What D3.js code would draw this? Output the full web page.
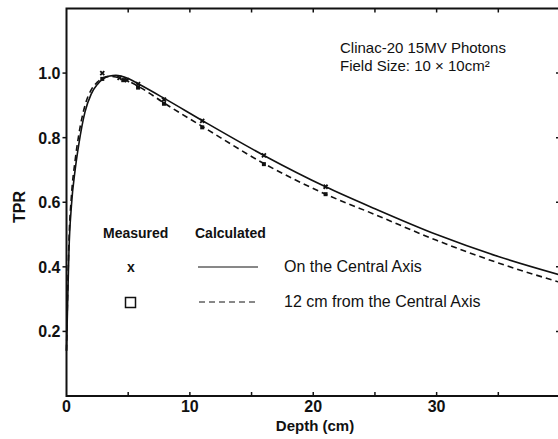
<!DOCTYPE html>
<html>
<head>
<meta charset="utf-8">
<script src="https://cdn.jsdelivr.net/npm/d3@7"></script>
<style>
  html, body { margin: 0; padding: 0; background: #fff; }
  svg { display: block; }
  text { font-family: "Liberation Sans Narrow", "Arial Narrow", "Liberation Sans", Arial, sans-serif; fill: #111; }
</style>
</head>
<body>
<svg id="chart" width="558" height="439"></svg>
<script>
// Tissue-phantom ratio vs depth, Clinac-20 15 MV photons, 10x10 cm field
const xTicks = [0, 10, 20, 30];
const yTicks = [0.2, 0.4, 0.6, 0.8, 1.0];

// Calculated curve on the central axis: [depth cm, TPR]
const calcCentral = [
  [0.0, 0.14], [0.1, 0.30], [0.2, 0.45], [0.4, 0.59], [0.7, 0.70], [1.0, 0.78],
  [1.5, 0.88], [2.0, 0.935], [2.5, 0.965], [3.0, 0.983], [3.5, 0.991], [4.0, 0.993],
  [5.0, 0.983], [6.0, 0.963], [8.0, 0.92], [11, 0.853], [16, 0.745], [21, 0.648],
  [25, 0.58], [30, 0.50], [35, 0.432], [40, 0.375]
];
// Calculated curve 12 cm from the central axis
const calcOffAxis = [
  [0.0, 0.14], [0.1, 0.33], [0.2, 0.48], [0.4, 0.62], [0.7, 0.73], [1.0, 0.81],
  [1.5, 0.90], [2.0, 0.948], [2.5, 0.972], [3.0, 0.986], [3.5, 0.990], [4.0, 0.988],
  [5.0, 0.975], [6.0, 0.955], [8.0, 0.905], [11, 0.835], [16, 0.72], [21, 0.625],
  [25, 0.562], [30, 0.482], [35, 0.412], [40, 0.352]
];
// Measured points
const measCentral = [
  [2.9, 1.0], [4.3, 0.985], [4.9, 0.978], [5.8, 0.966], [7.9, 0.918],
  [11, 0.852], [16, 0.745], [21, 0.648]
];
const measOffAxis = [
  [2.9, 0.982], [4.6, 0.978], [5.8, 0.955], [7.9, 0.905],
  [11, 0.832], [16, 0.718], [21, 0.625]
];

const svg = d3.select("#chart");
const mLeft = 66.5, mRight = 560, mTop = 8.5, mBottom = 396;

const x = d3.scaleLinear().domain([0, 40]).range([mLeft, mRight]);
const y = d3.scaleLinear().domain([0, 1.2]).range([mBottom, mTop]);

// frame
svg.append("rect")
  .attr("x", mLeft).attr("y", mTop)
  .attr("width", mRight - mLeft).attr("height", mBottom - mTop)
  .attr("fill", "none").attr("stroke", "#111").attr("stroke-width", 2);

const minorX = d3.range(5, 40, 5);
// bottom ticks (inward)
svg.append("g").selectAll("line").data(minorX).join("line")
  .attr("x1", d => x(d)).attr("x2", d => x(d))
  .attr("y1", mBottom).attr("y2", mBottom - 4)
  .attr("stroke", "#111").attr("stroke-width", 1.5);
// top ticks (inward)
svg.append("g").selectAll("line").data(minorX).join("line")
  .attr("x1", d => x(d)).attr("x2", d => x(d))
  .attr("y1", mTop).attr("y2", mTop + 4)
  .attr("stroke", "#111").attr("stroke-width", 1.5);
// left ticks (outward)
svg.append("g").selectAll("line").data(yTicks).join("line")
  .attr("x1", mLeft - 4).attr("x2", mLeft)
  .attr("y1", d => y(d)).attr("y2", d => y(d))
  .attr("stroke", "#111").attr("stroke-width", 1.5);
// right ticks (inward)
svg.append("g").selectAll("line").data(yTicks).join("line")
  .attr("x1", mRight - 4).attr("x2", mRight)
  .attr("y1", d => y(d)).attr("y2", d => y(d))
  .attr("stroke", "#111").attr("stroke-width", 1.5);

// tick labels
svg.append("g").selectAll("text").data(yTicks).join("text")
  .attr("x", mLeft - 6).attr("y", d => y(d) + 6)
  .attr("text-anchor", "end")
  .attr("font-size", 16).attr("font-weight", "bold")
  .text(d => d.toFixed(1));
svg.append("g").selectAll("text").data(xTicks).join("text")
  .attr("x", d => x(d)).attr("y", 412)
  .attr("text-anchor", "middle")
  .attr("font-size", 16).attr("font-weight", "bold")
  .text(d => d);

// axis titles
svg.append("text")
  .attr("x", 315).attr("y", 431)
  .attr("text-anchor", "middle")
  .attr("font-size", 15).attr("font-weight", "bold")
  .text("Depth (cm)");
svg.append("text")
  .attr("transform", "translate(25,207) rotate(-90)")
  .attr("text-anchor", "middle")
  .attr("font-size", 16).attr("font-weight", "bold")
  .text("TPR");

// curves
const line = d3.line().x(d => x(d[0])).y(d => y(d[1])).curve(d3.curveMonotoneX);
const plot = svg.append("g");
plot.append("path").datum(calcCentral)
  .attr("d", line).attr("fill", "none")
  .attr("stroke", "#111").attr("stroke-width", 1.6);
plot.append("path").datum(calcOffAxis)
  .attr("d", line).attr("fill", "none")
  .attr("stroke", "#111").attr("stroke-width", 1.6)
  .attr("stroke-dasharray", "6,4");

// measured markers
plot.append("g").selectAll("path").data(measCentral).join("path")
  .attr("d", d => {
    const cx = x(d[0]), cy = y(d[1]), r = 2;
    return `M${cx - r},${cy - r}L${cx + r},${cy + r}M${cx - r},${cy + r}L${cx + r},${cy - r}`;
  })
  .attr("stroke", "#111").attr("stroke-width", 1.8);
plot.append("g").selectAll("rect").data(measOffAxis).join("rect")
  .attr("x", d => x(d[0]) - 2).attr("y", d => y(d[1]) - 2)
  .attr("width", 4).attr("height", 4)
  .attr("fill", "#111");

// annotation
svg.append("text").attr("x", 340).attr("y", 53).attr("font-size", 15)
  .text("Clinac-20 15MV Photons");
svg.append("text").attr("x", 340).attr("y", 71).attr("font-size", 15)
  .text("Field Size: 10 \u00d7 10cm\u00b2");

// legend
const lg = svg.append("g");
lg.append("text").attr("x", 103).attr("y", 238).attr("font-size", 14).attr("font-weight", "bold").text("Measured");
lg.append("text").attr("x", 195).attr("y", 238).attr("font-size", 14).attr("font-weight", "bold").text("Calculated");
lg.append("text").attr("x", 131).attr("y", 272).attr("text-anchor", "middle").attr("font-size", 14).attr("font-weight", "bold").text("x");
lg.append("rect").attr("x", 125.5).attr("y", 297.5).attr("width", 10).attr("height", 10)
  .attr("fill", "none").attr("stroke", "#111").attr("stroke-width", 1.5);
lg.append("line").attr("x1", 198).attr("x2", 258).attr("y1", 267).attr("y2", 267)
  .attr("stroke", "#111").attr("stroke-width", 1);
lg.append("line").attr("x1", 199).attr("x2", 258).attr("y1", 302).attr("y2", 302)
  .attr("stroke", "#111").attr("stroke-width", 1).attr("stroke-dasharray", "6,4");
lg.append("text").attr("x", 284).attr("y", 272).attr("font-size", 16).text("On the Central Axis");
lg.append("text").attr("x", 284).attr("y", 307).attr("font-size", 16).text("12 cm from the Central Axis");
</script>
</body>
</html>
